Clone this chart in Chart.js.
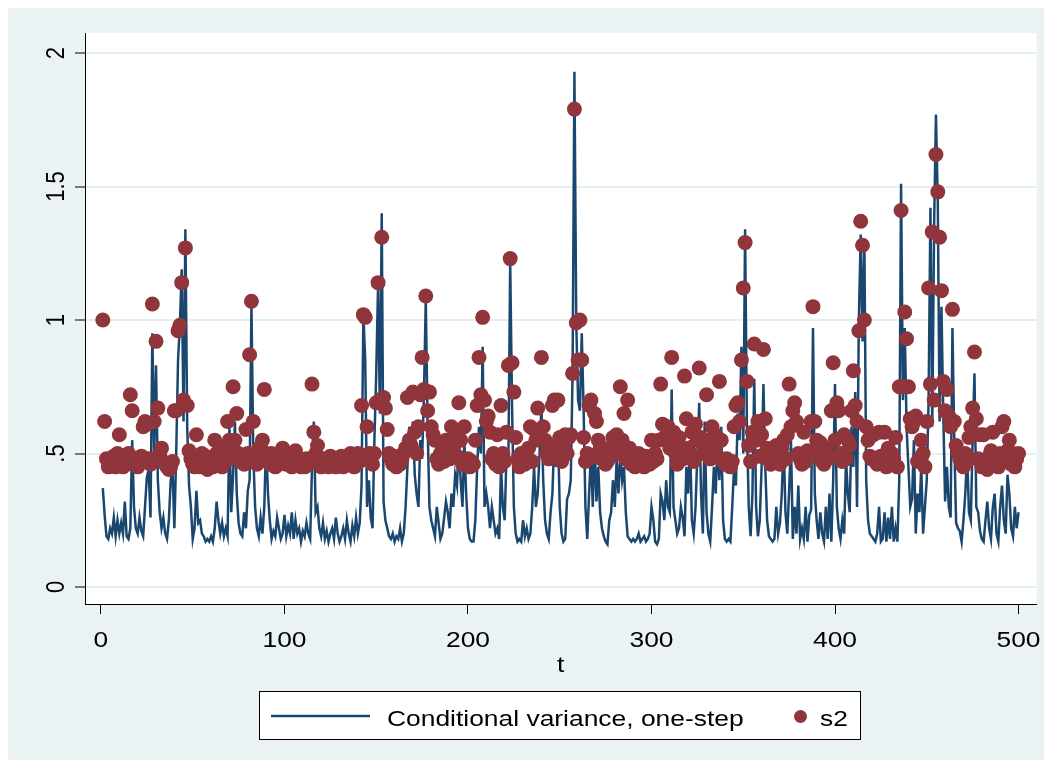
<!DOCTYPE html>
<html><head><meta charset="utf-8">
<script src="https://cdn.jsdelivr.net/npm/chart.js@4/dist/chart.umd.min.js"></script>
<style>html,body{margin:0;padding:0;background:#fff;}#wrap{width:1044px;height:767px;}</style>
</head><body><div id="wrap"><canvas id="c" width="1044" height="767"></canvas></div>
<script>
// Conditional variance, one-step (line)
const cv = [
0.37,0.27,0.19,0.18,0.22,0.20,0.26,0.19,0.25,0.20,
0.24,0.20,0.32,0.19,0.18,0.22,0.55,0.30,0.22,0.20,
0.26,0.21,0.19,0.30,0.41,0.44,0.26,0.95,0.50,0.83,
0.40,0.28,0.22,0.26,0.20,0.18,0.25,0.40,0.44,0.22,
0.50,0.85,0.98,1.19,0.62,1.34,0.60,0.38,0.30,0.18,
0.22,0.36,0.24,0.25,0.20,0.19,0.17,0.18,0.17,0.19,
0.17,0.22,0.32,0.25,0.20,0.24,0.19,0.22,0.19,0.60,
0.28,0.42,0.62,0.35,0.24,0.20,0.19,0.28,0.22,0.36,
0.40,1.06,0.50,0.30,0.22,0.19,0.26,0.20,0.30,0.55,
0.35,0.25,0.18,0.21,0.19,0.26,0.22,0.18,0.20,0.27,
0.19,0.23,0.20,0.28,0.18,0.25,0.20,0.22,0.17,0.21,
0.19,0.24,0.20,0.18,0.45,0.62,0.28,0.30,0.22,0.19,
0.24,0.18,0.21,0.17,0.20,0.22,0.18,0.26,0.20,0.17,
0.19,0.22,0.18,0.25,0.20,0.17,0.23,0.19,0.26,0.20,
0.24,0.38,1.02,0.85,0.30,0.40,0.26,0.22,0.55,0.80,
1.13,0.65,1.40,0.32,0.25,0.22,0.19,0.18,0.20,0.17,
0.19,0.18,0.22,0.17,0.20,0.30,0.45,0.60,0.55,0.62,
0.42,0.35,0.30,0.55,0.48,0.72,1.08,0.60,0.30,0.25,
0.22,0.19,0.30,0.24,0.18,0.20,0.26,0.32,0.28,0.22,
0.35,0.30,0.42,0.38,0.55,0.40,0.30,0.55,0.35,0.22,
0.18,0.17,0.17,0.25,0.45,0.60,0.50,0.90,0.30,0.35,
0.30,0.22,0.30,0.25,0.20,0.22,0.18,0.45,0.30,0.25,
0.50,0.45,1.22,0.68,0.30,0.20,0.17,0.18,0.17,0.25,
0.19,0.22,0.18,0.20,0.30,0.45,0.30,0.35,0.50,0.68,
0.40,0.25,0.20,0.18,0.28,0.35,0.55,0.45,0.58,0.30,
0.20,0.17,0.18,0.33,0.35,0.40,0.80,1.93,0.99,0.70,
0.66,0.95,0.67,0.30,0.18,0.35,0.50,0.30,0.55,0.32,
0.45,0.28,0.22,0.19,0.17,0.16,0.25,0.28,0.40,0.30,
0.48,0.35,0.50,0.40,0.45,0.28,0.19,0.18,0.17,0.18,
0.17,0.18,0.20,0.17,0.18,0.19,0.17,0.18,0.20,0.30,
0.25,0.17,0.16,0.18,0.35,0.32,0.25,0.40,0.30,0.28,
0.74,0.30,0.25,0.20,0.22,0.30,0.26,0.19,0.45,0.35,
0.55,0.25,0.20,0.30,0.50,0.69,0.35,0.20,0.62,0.28,
0.20,0.17,0.30,0.45,0.35,0.55,0.40,0.60,0.25,0.18,
0.17,0.18,0.17,0.30,0.45,0.38,0.65,0.55,0.90,0.50,
1.34,0.60,0.30,0.19,0.35,0.78,0.30,0.19,0.25,0.45,
0.76,0.45,0.25,0.19,0.18,0.17,0.18,0.30,0.20,0.24,
0.35,0.55,0.28,0.20,0.36,0.55,0.18,0.30,0.20,0.38,
0.18,0.22,0.18,0.30,0.17,0.27,0.29,0.97,0.35,0.25,
0.18,0.28,0.20,0.17,0.30,0.18,0.35,0.17,0.40,0.76,
0.30,0.22,0.18,0.25,0.20,0.48,0.35,0.28,0.60,0.45,
0.73,0.30,1.00,1.32,0.92,1.30,0.40,0.25,0.20,0.19,
0.18,0.17,0.20,0.30,0.17,0.18,0.28,0.17,0.26,0.18,
0.30,0.17,0.22,0.17,0.40,1.51,0.70,0.97,0.60,0.45,
0.30,0.33,0.55,0.20,0.35,0.28,0.45,0.20,0.30,0.40,
0.70,1.42,0.60,1.35,1.77,1.45,0.62,1.05,0.65,0.32,
0.45,0.30,0.26,0.97,0.55,0.24,0.22,0.21,0.17,0.25,
0.35,0.50,0.28,0.25,0.55,0.80,0.30,0.28,0.21,0.18,
0.17,0.25,0.32,0.22,0.18,0.30,0.35,0.20,0.17,0.30,
0.38,0.25,0.20,0.42,0.35,0.22,0.19,0.30,0.22,0.28
];
// s2 (markers)
const s2 = [
1.00,0.62,0.48,0.45,0.47,0.46,0.49,0.45,0.50,0.57,
0.47,0.45,0.49,0.46,0.50,0.72,0.66,0.48,0.46,0.45,
0.47,0.49,0.60,0.62,0.61,0.48,0.46,1.06,0.62,0.92,
0.67,0.50,0.52,0.47,0.46,0.45,0.44,0.45,0.47,0.66,
0.66,0.96,0.98,1.14,0.70,1.27,0.68,0.51,0.48,0.46,
0.45,0.57,0.47,0.45,0.50,0.46,0.49,0.44,0.45,0.47,
0.45,0.55,0.50,0.46,0.48,0.45,0.52,0.47,0.62,0.55,
0.50,0.75,0.55,0.65,0.50,0.47,0.49,0.46,0.59,0.50,
0.87,1.07,0.62,0.48,0.46,0.52,0.49,0.55,0.74,0.50,
0.48,0.46,0.50,0.47,0.45,0.49,0.46,0.48,0.52,0.47,
0.46,0.50,0.47,0.45,0.49,0.51,0.46,0.48,0.45,0.47,
0.45,0.48,0.46,0.47,0.76,0.58,0.50,0.53,0.47,0.45,
0.48,0.46,0.47,0.45,0.49,0.46,0.48,0.45,0.47,0.46,
0.49,0.45,0.48,0.47,0.46,0.50,0.47,0.45,0.48,0.50,
0.47,0.68,1.02,1.01,0.60,0.50,0.48,0.46,0.50,0.69,
1.14,0.70,1.31,0.71,0.67,0.59,0.50,0.48,0.46,0.47,
0.45,0.49,0.46,0.48,0.50,0.52,0.71,0.55,0.53,0.73,
0.58,0.50,0.60,0.72,0.86,0.74,1.09,0.66,0.73,0.60,
0.57,0.55,0.48,0.46,0.50,0.53,0.47,0.55,0.50,0.48,
0.60,0.52,0.57,0.49,0.69,0.55,0.46,0.60,0.47,0.48,
0.45,0.47,0.46,0.55,0.68,0.86,0.72,1.01,0.70,0.62,
0.64,0.58,0.48,0.50,0.46,0.57,0.45,0.68,0.50,0.47,
0.58,0.83,1.23,0.84,0.73,0.56,0.48,0.45,0.50,0.47,
0.46,0.49,0.52,0.60,0.47,0.59,0.55,0.67,0.58,0.86,
0.60,0.55,0.50,0.48,0.53,0.68,0.70,0.50,0.70,0.56,
0.47,0.52,0.57,0.50,0.56,0.57,0.80,1.79,0.99,0.85,
1.00,0.85,0.56,0.47,0.50,0.68,0.70,0.49,0.65,0.62,
0.55,0.52,0.48,0.50,0.46,0.47,0.52,0.49,0.56,0.53,
0.57,0.50,0.75,0.55,0.65,0.48,0.70,0.52,0.46,0.48,
0.45,0.47,0.50,0.46,0.48,0.45,0.49,0.47,0.46,0.55,
0.47,0.50,0.48,0.55,0.76,0.61,0.56,0.55,0.60,0.52,
0.86,0.58,0.50,0.46,0.56,0.52,0.48,0.79,0.63,0.52,
0.50,0.58,0.47,0.61,0.55,0.82,0.56,0.50,0.52,0.72,
0.55,0.48,0.60,0.52,0.57,0.49,0.77,0.55,0.47,0.46,
0.48,0.46,0.45,0.47,0.60,0.68,0.69,0.62,0.85,1.12,
1.29,0.77,0.53,0.47,0.58,0.91,0.55,0.62,0.49,0.57,
0.89,0.63,0.52,0.48,0.46,0.50,0.47,0.53,0.49,0.46,
0.52,0.55,0.48,0.57,0.76,0.60,0.66,0.69,0.62,0.50,
0.48,0.46,0.58,0.47,0.51,0.49,0.62,1.05,0.62,0.55,
0.50,0.54,0.47,0.46,0.52,0.48,0.49,0.66,0.84,0.55,
0.69,0.66,0.50,0.47,0.57,0.48,0.55,0.53,0.66,0.81,
0.68,0.62,0.96,1.37,1.28,1.00,0.60,0.55,0.49,0.48,
0.57,0.47,0.46,0.58,0.49,0.47,0.58,0.45,0.52,0.46,
0.50,0.48,0.56,0.45,0.75,1.41,0.75,1.03,0.93,0.75,
0.63,0.60,0.62,0.64,0.47,0.48,0.55,0.50,0.45,0.62,
1.12,0.76,1.33,0.70,1.62,1.48,1.31,1.11,0.77,0.66,
0.74,0.64,0.60,1.04,0.62,0.53,0.50,0.48,0.46,0.45,
0.50,0.47,0.56,0.60,0.67,0.88,0.63,0.48,0.57,0.45,
0.57,0.47,0.44,0.49,0.51,0.58,0.48,0.47,0.45,0.50,
0.60,0.62,0.48,0.51,0.55,0.46,0.50,0.45,0.48,0.50
];
// time index t (observation number)
const t = cv.map((_, i) => i + 1);
const xTicks = [0, 100, 200, 300, 400, 500];
const yTicks = [0, 0.5, 1, 1.5, 2];
const yTickLabels = ['0', '.5', '1', '1.5', '2'];
const xTitle = 't';
const seriesNames = ['Conditional variance, one-step', 's2'];

const NAVY = '#1a476f', MAROON = '#90353b', BG = '#eaf2f3';
const FONT = '22px "Liberation Sans", Arial, sans-serif';
const SX = 1.2;

function wideText(ctx, txt, x, y, align) {
  ctx.save();
  ctx.translate(x, y);
  ctx.scale(SX, 1);
  ctx.textAlign = align;
  ctx.textBaseline = 'alphabetic';
  ctx.fillText(txt, 0, 0);
  ctx.restore();
}

const deco = {
  id: 'deco',
  beforeDraw(chart) {
    const ctx = chart.ctx, a = chart.chartArea;
    ctx.save();
    ctx.fillStyle = '#ffffff';
    ctx.fillRect(0, 0, chart.width, chart.height);
    ctx.fillStyle = BG;
    ctx.fillRect(8, 8, chart.width - 8, 752);
    ctx.fillStyle = '#ffffff';
    ctx.fillRect(a.left, a.top, a.right - a.left, a.bottom - a.top);
    ctx.restore();
  },
  afterDraw(chart) {
    const ctx = chart.ctx, a = chart.chartArea;
    const xs = chart.scales.x, ys = chart.scales.y;
    ctx.save();
    ctx.fillStyle = '#000';
    ctx.font = FONT;
    yTicks.forEach((v, i) => {
      const py = ys.getPixelForValue(v);
      ctx.save();
      ctx.translate(64, py);
      ctx.scale(SX, 1);
      ctx.rotate(-Math.PI / 2);
      ctx.textAlign = 'center';
      ctx.textBaseline = 'alphabetic';
      ctx.fillText(yTickLabels[i], 0, 0);
      ctx.restore();
    });
    xTicks.forEach(v => wideText(ctx, String(v), xs.getPixelForValue(v), 647, 'center'));
    wideText(ctx, xTitle, (a.left + a.right) / 2, 672, 'center');
    ctx.fillStyle = '#fff';
    ctx.fillRect(259, 691, 601, 48);
    ctx.strokeStyle = '#000';
    ctx.lineWidth = 1;
    ctx.strokeRect(259.5, 691.5, 601, 48);
    ctx.strokeStyle = NAVY;
    ctx.lineWidth = 2.5;
    ctx.beginPath();
    ctx.moveTo(271, 716);
    ctx.lineTo(370, 716);
    ctx.stroke();
    ctx.fillStyle = '#000';
    wideText(ctx, seriesNames[0], 387, 726, 'left');
    ctx.fillStyle = MAROON;
    ctx.beginPath();
    ctx.arc(800.5, 716.5, 6.5, 0, Math.PI * 2);
    ctx.fill();
    ctx.fillStyle = '#000';
    wideText(ctx, seriesNames[1], 820, 726, 'left');
    ctx.restore();
  }
};

new Chart(document.getElementById('c'), {
  type: 'scatter',
  data: {
    datasets: [
      {
        label: seriesNames[1],
        data: s2.map((v, i) => ({ x: t[i], y: v })),
        backgroundColor: MAROON,
        borderColor: MAROON,
        borderWidth: 0,
        pointRadius: 7.5,
        order: 0
      },
      {
        label: seriesNames[0],
        data: cv.map((v, i) => ({ x: t[i], y: v })),
        showLine: true,
        borderColor: NAVY,
        borderWidth: 2.5,
        pointRadius: 0,
        tension: 0,
        fill: false,
        order: 1
      }
    ]
  },
  options: {
    responsive: false,
    animation: false,
    devicePixelRatio: 1,
    layout: { padding: { top: 33, right: 7, left: 0, bottom: 0 } },
    plugins: { legend: { display: false }, tooltip: { enabled: false } },
    scales: {
      x: {
        type: 'linear', min: -8.7, max: 509.8,
        afterBuildTicks: s => { s.ticks = xTicks.map(v => ({ value: v })); },
        ticks: { display: false },
        grid: { drawOnChartArea: false, drawTicks: true, tickLength: 10, tickColor: '#000', tickWidth: 1 },
        border: { display: true, color: '#000', width: 1 },
        afterFit: s => { s.height = 163; }
      },
      y: {
        type: 'linear', min: -0.0637, max: 2.075,
        afterBuildTicks: s => { s.ticks = yTicks.map(v => ({ value: v })); },
        ticks: { display: false },
        grid: { color: '#e6eef1', lineWidth: 2, drawTicks: true, tickLength: 10, tickColor: '#000', tickWidth: 1 },
        border: { display: true, color: '#000', width: 1 },
        afterFit: s => { s.width = 85; }
      }
    }
  },
  plugins: [deco]
});
</script>
</body></html>
